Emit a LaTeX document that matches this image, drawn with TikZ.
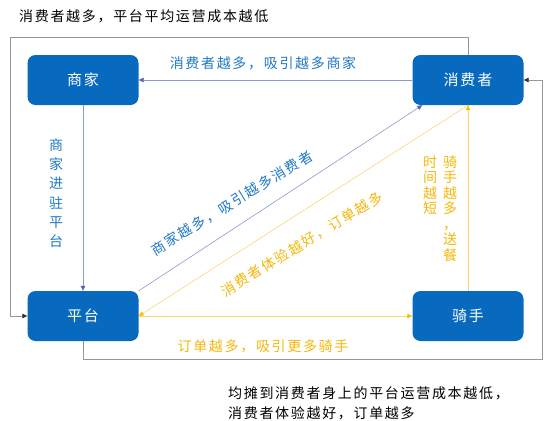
\documentclass[tikz,border=0pt]{standalone}
\usepackage{fontspec}
\setmainfont{Noto Sans CJK SC}[LetterSpace=12]
\usetikzlibrary{arrows.meta,calc}
\definecolor{kuai}{RGB}{8,106,190}
\definecolor{lanzise}{RGB}{30,120,195}
\definecolor{huangzise}{RGB}{243,183,10}
\definecolor{lanxian}{RGB}{140,155,205}
\definecolor{lanjian}{RGB}{80,100,190}
\definecolor{huangxian}{RGB}{248,215,110}
\definecolor{huangjian}{RGB}{245,192,0}
\definecolor{huixian}{RGB}{150,150,150}
\begin{document}
\begin{tikzpicture}[x=1pt,y=-1pt,line join=round,
  kuang/.style={fill=kuai,rounded corners=8pt,minimum width=111pt,minimum height=50pt,text=white,font=\fontsize{15}{18}\selectfont},
  lan/.style={draw=lanxian,line width=0.6pt,-{Triangle[length=5pt,width=4.5pt,color=lanjian]}},
  huang/.style={draw=huangxian,line width=0.6pt,-{Triangle[length=5pt,width=4.5pt,color=huangjian]}},
  hui/.style={draw=huixian,line width=0.6pt,-{Triangle[length=5pt,width=4.5pt,color=black!80]}},
  lanzi/.style={text=lanzise,font=\fontsize{14}{16}\selectfont,inner sep=0pt},
  huangzi/.style={text=huangzise,font=\fontsize{14}{16}\selectfont,inner sep=0pt}]
\useasboundingbox (0,0) rectangle (550,421);
% four boxes
\foreach \n/\p/\t in {sj/{83,80}/商家,xf/{468,80}/消费者,pt/{83,316}/平台,qs/{468,316}/骑手}
  {\node[kuang] (\n) at (\p) {\t};}
\coordinate (zs) at (10,37);
\coordinate (yx) at (542,359);
% connectors
\draw[lan] (xf) -- (sj);
\draw[lan] (sj) -- (pt);
\draw[lan] (pt.north east) -- ([xshift=10pt]xf.south west);
\draw[huang] (xf.south) -- (pt.east);
\draw[huang] (qs) -- (xf);
\draw[huang] (pt) -- (qs);
\draw[hui] (xf.north) |- (zs) |- (pt.west);
\draw[hui] (pt.south) |- (yx) |- (xf.east);
% labels
\node[lanzi] (l1) at (263,63) {消费者越多，吸引越多商家};
\node[lanzi,align=center,font=\fontsize{14}{19.3}\selectfont] (l2) at (56,193) {商\\家\\进\\驻\\平\\台};
\node[lanzi,rotate=31.5] (l3) at (232,203) {商家越多，吸引越多消费者};
\node[huangzi,rotate=31.5] (l4) at (302,244) {消费者体验越好，订单越多};
\node[huangzi,align=center,font=\fontsize{14}{15.5}\selectfont] (l5) at (450,208.5) {骑\\手\\越\\多\\，\\送\\餐};
\node[huangzi,align=center,font=\fontsize{14}{15.5}\selectfont] (l6) at (430,185) {时\\间\\越\\短};
\node[huangzi] (l7) at (263,346) {订单越多，吸引更多骑手};
\node[anchor=west,inner sep=0pt,font=\fontsize{14}{16}\selectfont] (bt) at (19,16) {消费者越多，平台平均运营成本越低};
\node[anchor=west,align=left,inner sep=0pt,font=\fontsize{14}{20}\selectfont] (zj) at (228,403) {均摊到消费者身上的平台运营成本越低，\\消费者体验越好，订单越多};
\end{tikzpicture}
\end{document}
